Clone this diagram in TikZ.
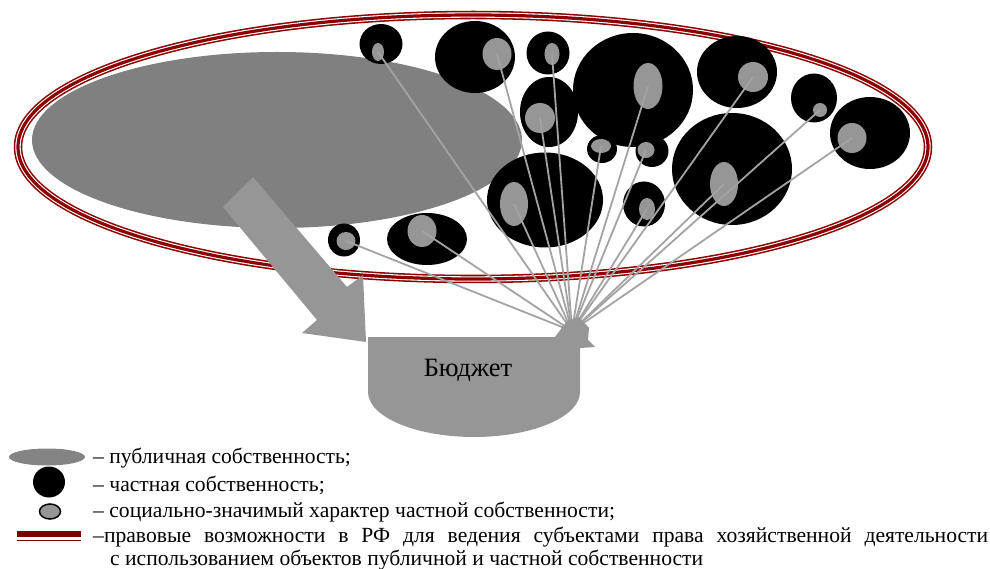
\documentclass[tikz,border=0pt]{standalone}
\usepackage{fontspec}
\setmainfont{Liberation Serif}
\usetikzlibrary{shapes.geometric}
\definecolor{dred}{HTML}{8B0000}
\definecolor{biggray}{HTML}{808080}
\definecolor{ingray}{HTML}{969696}
\definecolor{wiregray}{HTML}{A3A3A3}
\begin{document}
\begin{tikzpicture}[x=1pt,y=-1pt,
  blk/.style={ellipse, fill=black, inner sep=0pt, draw=none},
  gin/.style={ellipse, fill=ingray, inner sep=0pt, draw=none},
  wire/.style={draw=wiregray, line width=1.8pt},
  legtext/.style={anchor=base west, inner sep=0pt, font=\fontsize{21.6}{24}\selectfont},
  redband/.style={draw=dred, line width=8.5pt},
  redgap/.style={draw=white, line width=5.4pt},
  redcore/.style={draw=dred, line width=3.2pt}]
\useasboundingbox (0,0) rectangle (990,569);
% frame ellipse (triple line)
\draw[redband] (473,147) ellipse [x radius=455pt, y radius=132pt];
\draw[redgap] (473,147) ellipse [x radius=455pt, y radius=132pt];
\draw[redcore] (473,147) ellipse [x radius=455pt, y radius=132pt];
% public property
\node[ellipse, fill=biggray, inner sep=0pt, minimum width=490, minimum height=176] (pub) at (277,140) {};
% private property circles
\node[blk, minimum width=43, minimum height=40] (c1) at (381,44) {};
\node[blk, minimum width=80, minimum height=72] (c2) at (475,57) {};
\node[blk, minimum width=43, minimum height=43] (c3) at (548,53) {};
\node[blk, minimum width=58, minimum height=70] (c4) at (549,112) {};
\node[blk, minimum width=120, minimum height=114] (c5) at (633,90) {};
\node[blk, minimum width=30, minimum height=28] (c6) at (602,149) {};
\node[blk, minimum width=33, minimum height=32] (c7) at (652,151) {};
\node[blk, minimum width=116, minimum height=95] (c8) at (545,200) {};
\node[blk, minimum width=42, minimum height=45] (c9) at (644,204) {};
\node[blk, minimum width=80, minimum height=72] (c10) at (737,72) {};
\node[blk, minimum width=120, minimum height=112] (c11) at (732,169) {};
\node[blk, minimum width=46, minimum height=49] (c12) at (814,98) {};
\node[blk, minimum width=80, minimum height=72] (c13) at (870,133) {};
\node[blk, minimum width=32, minimum height=33] (cs) at (344,240) {};
\node[blk, minimum width=80, minimum height=52] (ce) at (427,239) {};
% socially significant cores
\node[gin, minimum width=12, minimum height=18] (g1) at (378,52) {};
\node[gin, minimum width=29, minimum height=32] (g2) at (497,54) {};
\node[gin, minimum width=15, minimum height=22] (g3) at (552,54) {};
\node[gin, minimum width=30, minimum height=30] (g4) at (540,118) {};
\node[gin, minimum width=29, minimum height=46] (g5) at (648,86) {};
\node[gin, minimum width=20, minimum height=14] (g6) at (601,146) {};
\node[gin, minimum width=17, minimum height=16] (g7) at (646,150) {};
\node[gin, minimum width=28, minimum height=44] (g8) at (514,204) {};
\node[gin, minimum width=16, minimum height=22] (g9) at (647,209) {};
\node[gin, minimum width=30, minimum height=30] (g10) at (753,77) {};
\node[gin, minimum width=28, minimum height=44] (g11) at (724,184) {};
\node[gin, minimum width=14, minimum height=14] (g12) at (820,110) {};
\node[gin, minimum width=29, minimum height=30] (g13) at (852,138) {};
\node[gin, minimum width=19, minimum height=18] (gs) at (346,241) {};
\node[gin, minimum width=29, minimum height=32] (ge) at (422,231) {};
% hub and wires
\coordinate (hub) at (572,331);
\foreach \g in {g1,g2,g3,g4,g5,g6,g7,g8,g9,g10,g11,g12,g13,gs,ge}
  \draw[wire] (\g.center) -- (hub);
% big block arrow
\fill[ingray] (253,177) -- (347,287) -- (363,275) -- (366,342) -- (302,333) -- (317,320) -- (223,207) -- cycle;
% budget bowl
\path[fill=ingray] (368,337) -- (580,337) -- (580,392)
  .. controls (580,417) and (532,437) .. (474,437)
  .. controls (416,437) and (368,417) .. (368,392) -- cycle;
\node[anchor=base, inner sep=0pt, font=\fontsize{26.5}{30}\selectfont] (budget) at (468,376) {Бюджет};
\fill[ingray] (555,337) -- (567,321) -- (579,317) -- (589,328) -- (588,340) -- (595,347) -- (580,348) -- (580,337) -- cycle;
% legend
\node[ellipse, fill=ingray!88!black, inner sep=0pt, minimum width=76, minimum height=17] (lpub) at (47,457) {};
\node[blk, minimum width=32, minimum height=31] (lpriv) at (49,482) {};
\node[ellipse, fill=ingray, draw=black, line width=1.5pt, inner sep=0pt, minimum width=21, minimum height=15] (lsoc) at (50,511.5) {};
\coordinate (lra) at (17,534);
\coordinate (lrb) at (81,534);
\coordinate (lrc) at (17,540.6);
\coordinate (lrd) at (81,540.6);
\draw[draw=dred!90!black, line width=6.5pt] (lra) -- (lrb);
\draw[draw=dred!90!black, line width=1.4pt] (lrc) -- (lrd);
\node[legtext] (t1) at (93,463) {– публичная собственность;};
\node[legtext] (t2) at (93,491) {– частная собственность;};
\node[legtext] (t3) at (93,517) {– социально-значимый характер частной собственности;};
\node[legtext] (t4) at (93,542) {\makebox[895pt][s]{–правовые возможности в РФ для ведения субъектами права хозяйственной деятельности}};
\node[legtext] (t5) at (110,565) {с использованием объектов публичной и частной собственности};
\end{tikzpicture}
\end{document}
